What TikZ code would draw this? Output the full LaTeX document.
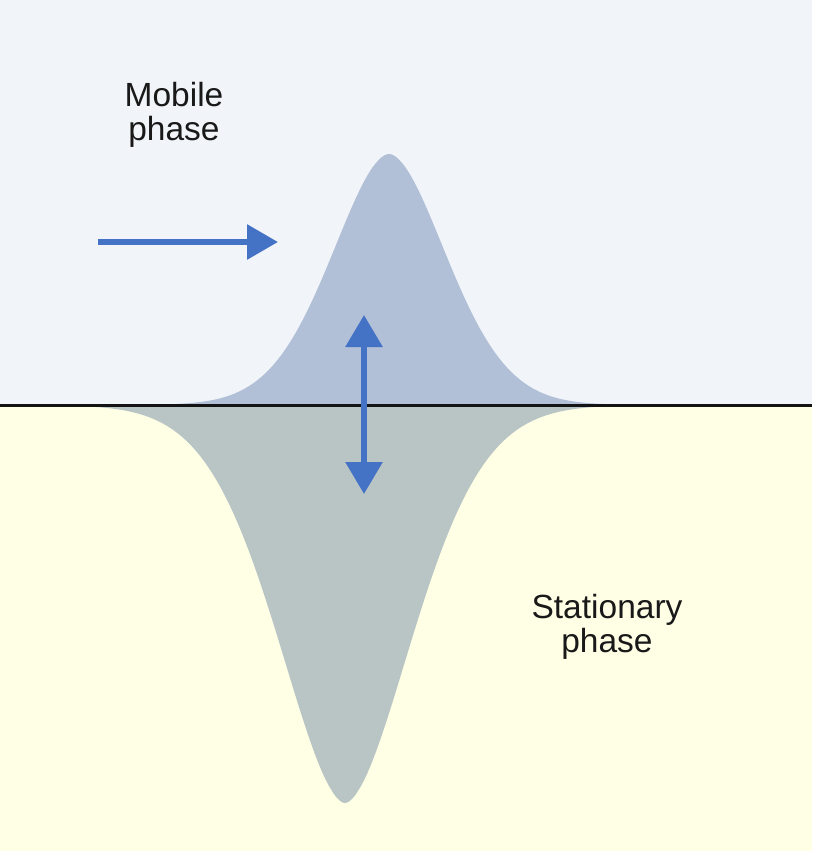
\documentclass[tikz,border=0pt]{standalone}
\usepackage{fontspec}
\setmainfont{Liberation Sans}
\usetikzlibrary{arrows.meta}
\definecolor{topbg}{HTML}{F1F5F9}
\definecolor{botbg}{HTML}{FFFFE6}
\definecolor{mobpeak}{HTML}{B1BFD7}
\definecolor{statpeak}{HTML}{B9C5C5}
\definecolor{arrowblue}{HTML}{4472C4}
\tikzset{
  flowarrow/.style={draw=arrowblue, line width=6pt, -{Triangle[length=31pt,width=34pt]}},
  exarrow/.style={draw=arrowblue, line width=6pt, {Triangle[length=32pt,width=36pt]}-{Triangle[length=32pt,width=36pt]}},
  phaselabel/.style={font=\fontsize{33.5}{34.5}\selectfont, align=center, inner sep=0pt, anchor=north, text=black!90}
}
\begin{document}
\begin{tikzpicture}[x=1pt,y=-1pt]
\useasboundingbox (0,0) rectangle (812,851);
% backgrounds
\fill[topbg] (0,0) rectangle (812,405);
\fill[botbg] (0,405) rectangle (812,851);
% mobile phase peak
\fill[mobpeak] plot[domain=120:660, samples=240] (\x, {405-251*exp(-((abs(\x-389)+0.01)/82.6)^1.8)}) -- cycle;
% stationary phase peak
\fill[statpeak] plot[domain=90:610, samples=240] (\x, {405+398*exp(-((abs(\x-345)+0.01)/96)^1.75)}) -- cycle;
% interface line
\coordinate (L) at (0,405);
\coordinate (R) at (812,405);
\draw[line width=3pt, black!92] (L) -- (R);
% arrows
\coordinate (fa) at (98,242);
\coordinate (fb) at (278,242);
\draw[flowarrow] (fa) -- (fb);
\coordinate (ea) at (364,315);
\coordinate (eb) at (364,494);
\draw[exarrow] (ea) -- (eb);
% labels
\node[phaselabel] (mob) at (174,82) {Mobile\\phase};
\node[phaselabel] (stat) at (607,594) {Stationary\\phase};
\end{tikzpicture}
\end{document}
